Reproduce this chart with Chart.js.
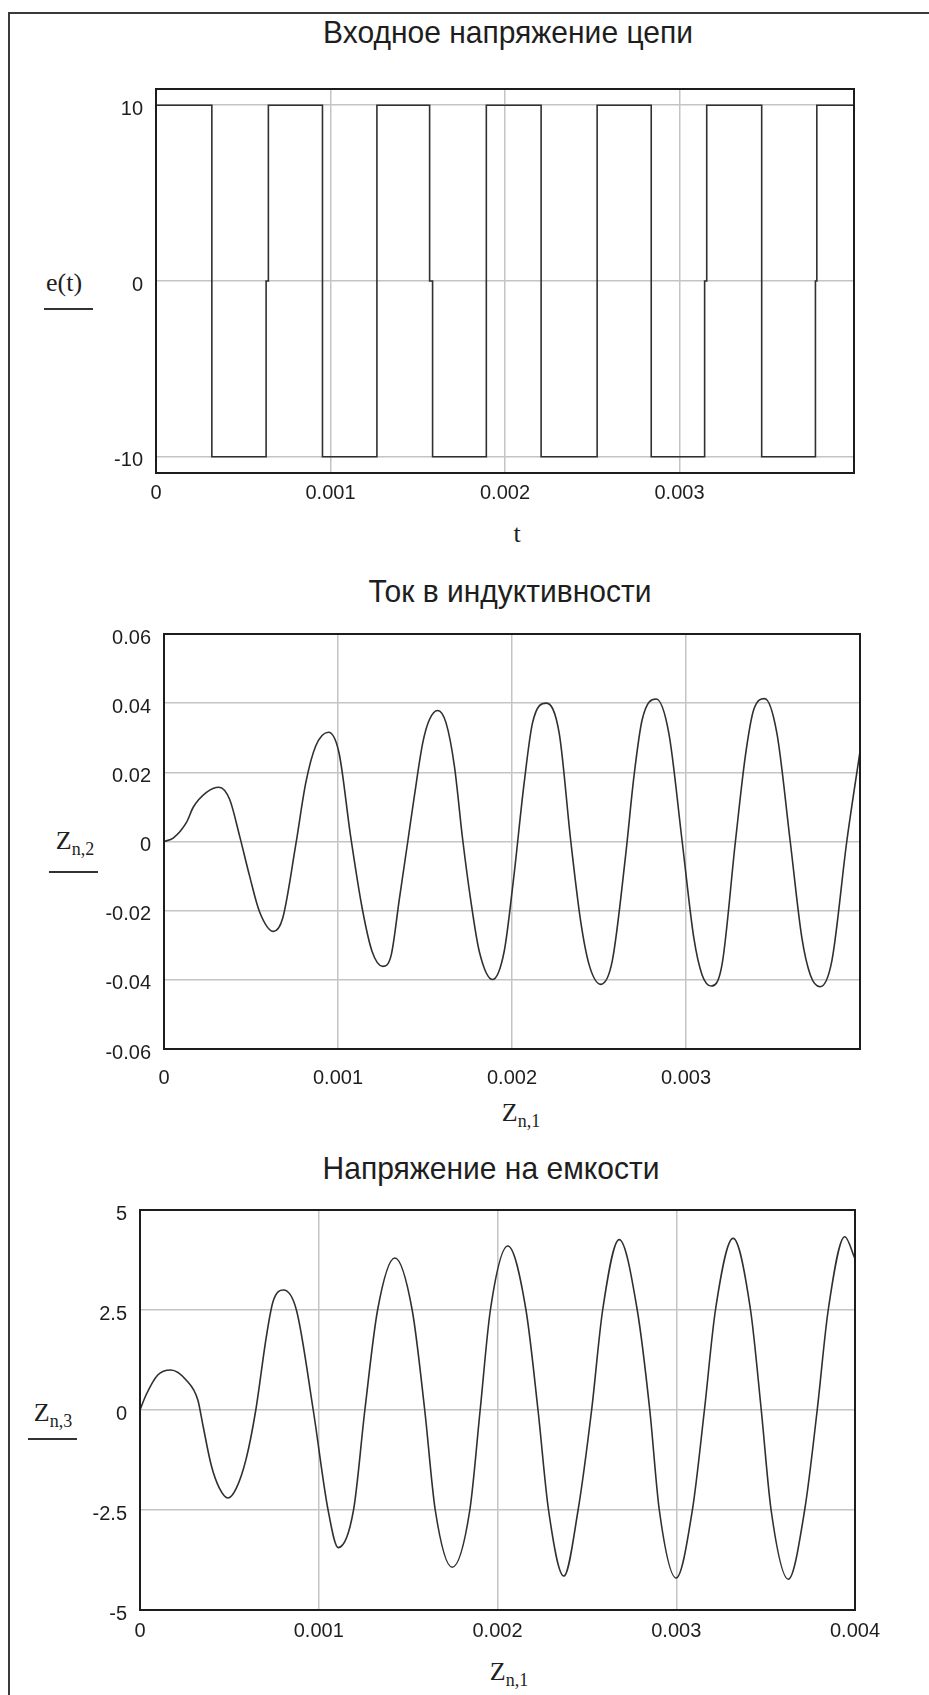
<!DOCTYPE html>
<html>
<head>
<meta charset="utf-8">
<title>Переходный процесс в RLC-цепи</title>
<script src="https://cdn.jsdelivr.net/npm/chart.js@4.4.1/dist/chart.umd.min.js"></script>
<style>
  body { margin: 0; background: #fff; }
  #page { position: relative; width: 929px; height: 1695px; overflow: hidden; background: #fff; }
  .frame { position: absolute; left: 8px; top: 12px; width: 980px; height: 1750px;
           border-left: 2px solid #3a3a3a; border-top: 2px solid #3a3a3a; }
  .title { position: absolute; transform: translate(-50%, -50%) scaleY(1.07); white-space: nowrap;
           font: 30px "Liberation Sans", Arial, sans-serif; color: #1e1e1e; }
  .var { position: absolute; transform: translate(-50%, -50%); white-space: nowrap;
         font: 26px "Liberation Serif", "Times New Roman", serif; color: #1e1e1e; }
  .var sub { font-size: 18px; }
  .bar { position: absolute; height: 2px; background: #333; }
  canvas { position: absolute; left: 0; }
</style>
</head>
<body>
<div id="page">
  <div class="frame"></div>

  <div class="title" style="left:508px; top:32px">Входное напряжение цепи</div>
  <div class="var" style="left:64px; top:283px">e(t)</div>
  <div class="bar" style="left:44px; top:308px; width:49px"></div>
  <div class="var" style="left:517px; top:534px">t</div>
  <canvas id="chartE"></canvas>

  <div class="title" style="left:510px; top:591px">Ток в индуктивности</div>
  <div class="var" style="left:75px; top:843px">Z<sub>n,2</sub></div>
  <div class="bar" style="left:49px; top:871px; width:49px"></div>
  <div class="var" style="left:521px; top:1115px">Z<sub>n,1</sub></div>
  <canvas id="chartI"></canvas>

  <div class="title" style="left:491px; top:1168px">Напряжение на емкости</div>
  <div class="var" style="left:53px; top:1415px">Z<sub>n,3</sub></div>
  <div class="bar" style="left:28px; top:1438px; width:49px"></div>
  <div class="var" style="left:509px; top:1674px">Z<sub>n,1</sub></div>
  <canvas id="chartU"></canvas>
</div>

<script>
// input voltage e(t): vertices of the square wave, seconds / volts
const eTime = [0, 0.00032, 0.00032, 0.000631, 0.000631, 0.000644, 0.000644, 0.000954, 0.000954,
  0.001266, 0.001266, 0.001568, 0.001568, 0.001585, 0.001585, 0.001893, 0.001893, 0.002207, 0.002207,
  0.002528, 0.002528, 0.002838, 0.002838, 0.003144, 0.003144, 0.003156, 0.003156, 0.003471, 0.003471,
  0.003779, 0.003779, 0.003787, 0.003787, 0.004];
const eValue = [10, 10, -10, -10, 0, 0, 10, 10, -10,
  -10, 10, 10, 0, 0, -10, -10, 10, 10, -10,
  -10, 10, 10, -10, -10, 0, 0, 10, 10, -10,
  -10, 0, 0, 10, 10];

// inductor current Z<n,2> against Z<n,1>
const iTime = [0, 0.000053, 0.00013, 0.000168, 0.000244, 0.000316, 0.000377, 0.000434, 0.000491,
  0.000549, 0.000629, 0.000682, 0.000758, 0.000815, 0.000872, 0.000945, 0.001006, 0.001072, 0.001139,
  0.001196, 0.001257, 0.001305, 0.001353, 0.001401, 0.001439, 0.001487, 0.001525, 0.001573, 0.001621,
  0.001669, 0.001716, 0.001764, 0.001812, 0.001888, 0.001955, 0.002007, 0.00207, 0.002118, 0.002198,
  0.002271, 0.002338, 0.002395, 0.002443, 0.00251, 0.002576, 0.002653, 0.002701, 0.002748, 0.002829,
  0.002901, 0.002978, 0.003045, 0.003092, 0.003146, 0.003207, 0.003284, 0.003341, 0.003389, 0.003452,
  0.003522, 0.003599, 0.003666, 0.003714, 0.003771, 0.003838, 0.003924, 0.004];
const iValue = [0, 0.001, 0.0056, 0.0099, 0.0142, 0.0157, 0.0122, 0.0017, -0.0098,
  -0.0203, -0.026, -0.0222, -0.0007, 0.017, 0.0276, 0.0316, 0.0256, 0.0017, -0.0193,
  -0.0318, -0.0361, -0.033, -0.0165, 0, 0.0132, 0.0285, 0.0352, 0.0379, 0.0343,
  0.0218, 0.0008, -0.0174, -0.0318, -0.0399, -0.0318, -0.0117, 0.017, 0.0343, 0.04,
  0.0314, 0, -0.0232, -0.0356, -0.0413, -0.0346, -0.004, 0.0189, 0.0352, 0.0412,
  0.0314, 0, -0.0279, -0.0385, -0.0418, -0.0356, 0, 0.0247, 0.0381, 0.0413,
  0.0314, 0, -0.0279, -0.0385, -0.042, -0.0346, 0, 0.026];

// capacitor voltage Z<n,3> against Z<n,1>
const uTime = [0, 0.0000337, 0.0000993, 0.0001716, 0.000258, 0.0003236, 0.0003517, 0.0003982, 0.0004448,
  0.0004919, 0.0005384, 0.0005945, 0.0006478, 0.0007067, 0.0007443, 0.0008031, 0.000875, 0.0009691,
  0.0010522, 0.0011088, 0.0011946, 0.001258, 0.0013292, 0.0014257, 0.0015227, 0.0015928, 0.0016517,
  0.0017465, 0.0018452, 0.001903, 0.0019602, 0.0020578, 0.0021593, 0.0022266, 0.0022855, 0.0023713,
  0.0024509, 0.0025266, 0.0025883, 0.0026809, 0.0027818, 0.0028519, 0.0029052, 0.0029994, 0.0030903,
  0.0031576, 0.0032193, 0.003318, 0.0034156, 0.0034756, 0.0035306, 0.003627, 0.0037184, 0.0037886,
  0.0038502, 0.0039428, 0.004];
const uValue = [0, 0.375, 0.875, 1.0, 0.75, 0.25, -0.375, -1.375, -1.96,
  -2.2, -1.96, -1.21, 0, 1.83, 2.71, 3.0, 2.5, 0,
  -2.5, -3.44, -2.5, 0, 2.5, 3.8, 2.5, 0, -2.5,
  -3.93, -2.5, 0, 2.5, 4.1, 2.5, 0, -2.5, -4.15,
  -2.5, 0, 2.5, 4.26, 2.5, 0, -2.5, -4.2, -2.5,
  0, 2.5, 4.29, 2.5, 0, -2.5, -4.23, -2.5, 0,
  2.5, 4.33, 3.78];

// tick marks and their labels
const timeTicks = [0, 0.001, 0.002, 0.003];
const timeTickText = ['0', '0.001', '0.002', '0.003'];
const timeTicksFull = [0, 0.001, 0.002, 0.003, 0.004];
const timeTickTextFull = ['0', '0.001', '0.002', '0.003', '0.004'];
const eTicks = [-10, 0, 10];
const eTickText = ['-10', '0', '10'];
const iTicks = [-0.06, -0.04, -0.02, 0, 0.02, 0.04, 0.06];
const iTickText = ['-0.06', '-0.04', '-0.02', '0', '0.02', '0.04', '0.06'];
const uTicks = [-5, -2.5, 0, 2.5, 5];
const uTickText = ['-5', '-2.5', '0', '2.5', '5'];

const PAGE_W = 929;
const AXIS_W = 60;
const AXIS_H = 44;
const tickFont = { family: '"Liberation Sans", Arial, sans-serif', size: 20 };

// plot frame drawn on all four sides
const frameBox = {
  id: 'frameBox',
  afterDraw(chart) {
    const a = chart.chartArea;
    const ctx = chart.ctx;
    ctx.save();
    ctx.strokeStyle = '#1c1c1c';
    ctx.lineWidth = 2;
    ctx.strokeRect(a.left, a.top, a.right - a.left, a.bottom - a.top);
    ctx.restore();
  }
};

function toPoints(xs, ys) {
  return xs.map((x, i) => ({ x: x, y: ys[i] }));
}

function makePlot(id, cfg) {
  const canvas = document.getElementById(id);
  canvas.width = PAGE_W;
  canvas.height = cfg.height;
  canvas.style.top = cfg.top + 'px';
  const box = cfg.box;

  return new Chart(canvas, {
    type: 'line',
    data: {
      datasets: [{
        data: toPoints(cfg.xs, cfg.ys),
        borderColor: '#303030',
        borderWidth: 1.6,
        pointRadius: 0,
        fill: false,
        tension: 0,
        cubicInterpolationMode: cfg.smooth ? 'monotone' : 'default'
      }]
    },
    options: {
      responsive: false,
      animation: false,
      events: [],
      layout: {
        padding: {
          left: box.left - AXIS_W,
          right: PAGE_W - box.right,
          top: box.top - cfg.top,
          bottom: cfg.top + cfg.height - box.bottom - AXIS_H
        }
      },
      plugins: { legend: { display: false }, tooltip: { enabled: false } },
      scales: {
        x: {
          type: 'linear',
          min: 0,
          max: 0.004,
          afterFit: s => { s.height = AXIS_H; },
          afterBuildTicks: s => { s.ticks = cfg.xTicks.map(v => ({ value: v })); },
          border: { display: false },
          grid: { color: '#c4c4c4', lineWidth: 1.5, drawTicks: false },
          ticks: {
            padding: cfg.xPad, color: '#1e1e1e', font: tickFont, maxRotation: 0, autoSkip: false,
            callback: (v, i) => cfg.xText[i]
          }
        },
        y: {
          type: 'linear',
          min: cfg.yMin,
          max: cfg.yMax,
          afterFit: s => { s.width = AXIS_W; },
          afterBuildTicks: s => { s.ticks = cfg.yTicks.map(v => ({ value: v })); },
          border: { display: false },
          grid: { color: '#c4c4c4', lineWidth: 1.5, drawTicks: false },
          ticks: {
            padding: 13, labelOffset: 4, color: '#1e1e1e', font: tickFont, autoSkip: false,
            callback: (v, i) => cfg.yText[i]
          }
        }
      }
    },
    plugins: [frameBox]
  });
}

makePlot('chartE', {
  top: 60, height: 460,
  box: { left: 156, right: 854, top: 89, bottom: 473 },
  xs: eTime, ys: eValue, smooth: false, xPad: 8,
  xTicks: timeTicks, xText: timeTickText,
  yMin: -10.92, yMax: 10.92, yTicks: eTicks, yText: eTickText
});

makePlot('chartI', {
  top: 600, height: 500,
  box: { left: 164, right: 860, top: 634, bottom: 1049 },
  xs: iTime, ys: iValue, smooth: true, xPad: 17,
  xTicks: timeTicks, xText: timeTickText,
  yMin: -0.06, yMax: 0.06, yTicks: iTicks, yText: iTickText
});

makePlot('chartU', {
  top: 1180, height: 480,
  box: { left: 140, right: 855, top: 1210, bottom: 1610 },
  xs: uTime, ys: uValue, smooth: true, xPad: 9,
  xTicks: timeTicksFull, xText: timeTickTextFull,
  yMin: -5, yMax: 5, yTicks: uTicks, yText: uTickText
});
</script>
</body>
</html>
